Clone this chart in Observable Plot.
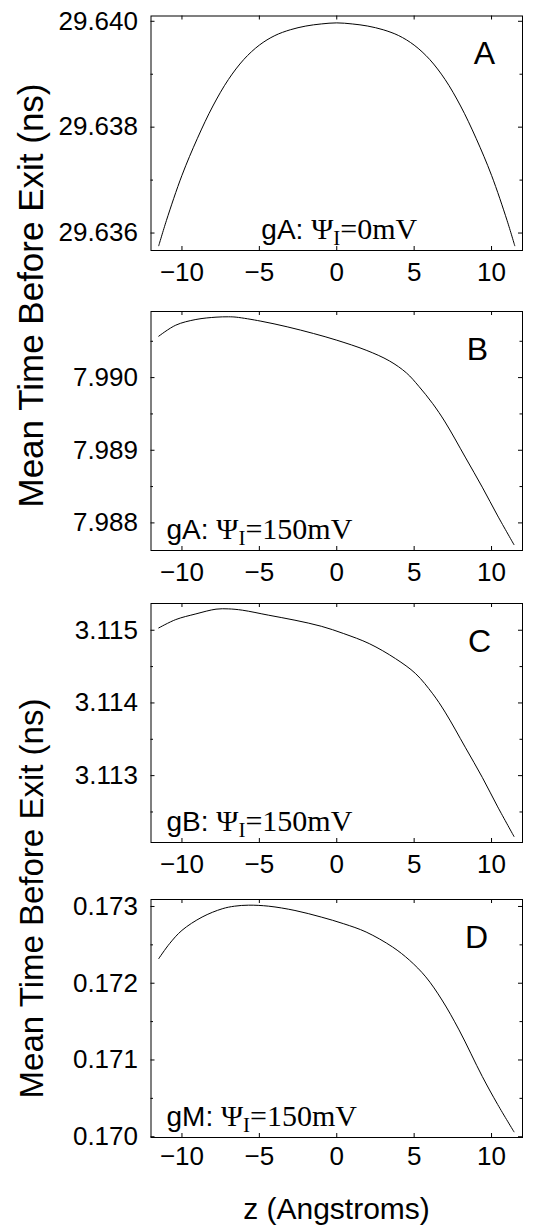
<!DOCTYPE html>
<html>
<head>
<meta charset="utf-8">
<script src="https://cdn.jsdelivr.net/npm/d3@7"></script>
<script src="https://cdn.jsdelivr.net/npm/@observablehq/plot@0.6"></script>
<style>
  body { margin: 0; background: #fff; }
  #wrap { position: relative; width: 534px; height: 1228px; overflow: hidden; background: #fff; }
  #wrap svg { position: absolute; left: 0; }
</style>
</head>
<body>
<div id="wrap"></div>
<script>
const SANS = "Liberation Sans, Arial, Helvetica, sans-serif";
const SERIF = "Liberation Serif, Times New Roman, serif";

// x ticks (shared)
const xTicks = [-10, -5, 0, 5, 10];

// Panel A: gA, Psi_I = 0 mV
const zA = [-11.5, -11, -10, -9, -8, -7, -6, -5, -4, -3, -2, -1, 0, 1, 2, 3, 4, 5, 6, 7, 8, 9, 10, 11, 11.5];
const tA = [29.63576, 29.63624, 29.63709, 29.63779, 29.63840, 29.63890, 29.63928, 29.63955, 29.63973, 29.63984, 29.63991, 29.63995, 29.63997,
            29.63995, 29.63991, 29.63984, 29.63973, 29.63955, 29.63928, 29.63890, 29.63840, 29.63779, 29.63709, 29.63624, 29.63576];
const yDomA = [29.63567, 29.64010];
const yMajA = [29.636, 29.638, 29.640];
const yMinA = [29.637, 29.639];

// Panel B: gA, Psi_I = 150 mV
const zB = [-11.5, -10.4, -9.1, -7.8, -7.0, -6.5, -4.9, -3.2, -1.5, 0, 1.9, 3.4, 4.5, 5.3, 6.2, 7.0, 8.3, 9.4, 10.4, 11.45];
const tB = [7.99057, 7.990722, 7.9908, 7.990832, 7.990837, 7.990832, 7.990777, 7.990699, 7.990607, 7.990515, 7.990377, 7.99023,
            7.990065, 7.989881, 7.989641, 7.989389, 7.988906, 7.988492, 7.988096, 7.9877];
const yDomB = [7.98762, 7.99091];
const yMajB = [7.988, 7.989, 7.990];
const yMinB = [7.9885, 7.9895, 7.9905];

// Panel C: gB, Psi_I = 150 mV
const zC = [-11.5, -10.4, -9.1, -7.8, -7.0, -6.1, -4.4, -2.7, -1.0, 0.45, 2.1, 3.8, 5.1, 6.2, 7.0, 8.3, 9.4, 10.4, 11.45];
const tC = [3.115032, 3.115147, 3.115225, 3.11529, 3.115294, 3.115276, 3.115207, 3.115138, 3.115055, 3.114954, 3.114816, 3.114609,
            3.114402, 3.114126, 3.113874, 3.113391, 3.112977, 3.11257, 3.112163];
const yDomC = [3.11208, 3.115368];
const yMajC = [3.113, 3.114, 3.115];
const yMinC = [3.1125, 3.1135, 3.1145];

// Panel D: gM, Psi_I = 150 mV
const zD = [-11.5, -10.8, -10.0, -8.7, -7.4, -6.6, -5.7, -4.4, -2.7, -1.0, 0.45, 1.9, 3.6, 4.7, 5.75, 6.8, 7.9, 9.4, 10.4, 11.45];
const tD = [0.172321, 0.172516, 0.172689, 0.172862, 0.17297, 0.173004, 0.173017, 0.173004, 0.172948, 0.172862, 0.172775, 0.172667,
            0.172473, 0.1723, 0.172083, 0.171781, 0.171392, 0.170786, 0.170419, 0.170064];
const yDomD = [0.16999, 0.173091];
const yMajD = [0.170, 0.171, 0.172, 0.173];
const yMinD = [0.1705, 0.1715, 0.1725];

const letters = ["A", "B", "C", "D"];
const noteLeads = ["gA:", "gA:", "gB:", "gM:"];
const noteRests = ["=0mV", "=150mV", "=150mV", "=150mV"];
const yTitle = "Mean Time Before Exit (ns)";
const xTitle = "z (Angstroms)";

const W = 534, ML = 150.5, MR = 12;
const letterDx = [-38, -45, -43, -46];
const xPad = [12, 12, 12, 9];

function noteMark(lead, rest, centered) {
  return (index, scales, values, dims) => {
    const {height, marginLeft, marginBottom} = dims;
    const t = d3.create("svg:text").attr("fill", "black").style("white-space", "pre");
    if (centered) t.attr("x", scales.x(0) + 3).attr("text-anchor", "middle");
    else t.attr("x", marginLeft + 16).attr("text-anchor", "start");
    t.attr("y", height - marginBottom - 11);
    t.append("tspan").attr("font-family", SANS).attr("font-size", 28).text(lead + " ");
    t.append("tspan").attr("font-family", SERIF).attr("font-size", 30).text("Ψ");
    t.append("tspan").attr("font-family", SERIF).attr("font-size", 21).attr("dy", 6).text("I");
    t.append("tspan").attr("font-family", SERIF).attr("font-size", 30).attr("dy", -6).text(rest);
    return t.node();
  };
}

function panel(i, z, t, yDom, yMaj, yMin, top, height, mt, mb) {
  const data = z.map((d, k) => ({z: d, t: t[k]}));
  const FH = height - mt - mb, FW = W - ML - MR;
  const plot = Plot.plot({
    width: W, height, marginLeft: ML, marginRight: MR, marginTop: mt, marginBottom: mb,
    style: {fontFamily: SANS, fontSize: "26px", background: "transparent", overflow: "visible", color: "black"},
    x: {domain: [-12, 12], ticks: xTicks, tickSize: 0, tickPadding: xPad[i], label: null},
    y: {domain: yDom, ticks: yMaj, tickSize: 0, tickPadding: 13, tickFormat: d3.format(".3f"), label: null},
    marks: [
      Plot.line(data, {x: "z", y: "t", stroke: "black", strokeWidth: 1, curve: "catmull-rom"}),
      Plot.tickX(xTicks, {x: d => d, insetTop: FH - 4, stroke: "black"}),
      Plot.tickX(xTicks, {x: d => d, insetBottom: FH - 4, stroke: "black"}),
      Plot.tickY(yMaj, {y: d => d, insetRight: FW - 4, stroke: "black"}),
      Plot.tickY(yMaj, {y: d => d, insetLeft: FW - 4, stroke: "black"}),
      Plot.tickY(yMin, {y: d => d, insetRight: FW - 2.5, stroke: "black"}),
      Plot.tickY(yMin, {y: d => d, insetLeft: FW - 2.5, stroke: "black"}),
      Plot.frame({stroke: "black", strokeWidth: 1}),
      Plot.text([letters[i]], {text: d => d, frameAnchor: "top-right", dx: letterDx[i], dy: 48, textAnchor: "middle", lineAnchor: "bottom", fontSize: 32, fill: "black"}),
      noteMark(noteLeads[i], noteRests[i], i === 0)
    ]
  });
  plot.style.top = top + "px";
  return plot;
}

const wrap = document.getElementById("wrap");
wrap.appendChild(panel(0, zA, tA, yDomA, yMajA, yMinA, 0, 290, 15.5, 40));
wrap.appendChild(panel(1, zB, tB, yDomB, yMajB, yMinB, 290, 295, 21, 35));
wrap.appendChild(panel(2, zC, tC, yDomC, yMajC, yMinC, 585, 295, 18, 38));
wrap.appendChild(panel(3, zD, tD, yDomD, yMajD, yMinD, 880, 300, 19, 43));

// overlay titles
const ov = d3.create("svg").attr("width", W).attr("height", 1228).style("top", "0px").style("pointer-events", "none");
ov.append("text").attr("transform", "translate(43,295.5) rotate(-90)").attr("text-anchor", "middle")
  .attr("font-family", SANS).attr("font-size", 35).attr("fill", "black").text(yTitle);
ov.append("text").attr("transform", "translate(43,898.5) rotate(-90)").attr("text-anchor", "middle")
  .attr("font-family", SANS).attr("font-size", 33).attr("fill", "black").text(yTitle);
ov.append("text").attr("x", 336.5).attr("y", 1219).attr("text-anchor", "middle")
  .attr("font-family", SANS).attr("font-size", 30).attr("fill", "black").text(xTitle);
wrap.appendChild(ov.node());
</script>
</body>
</html>
